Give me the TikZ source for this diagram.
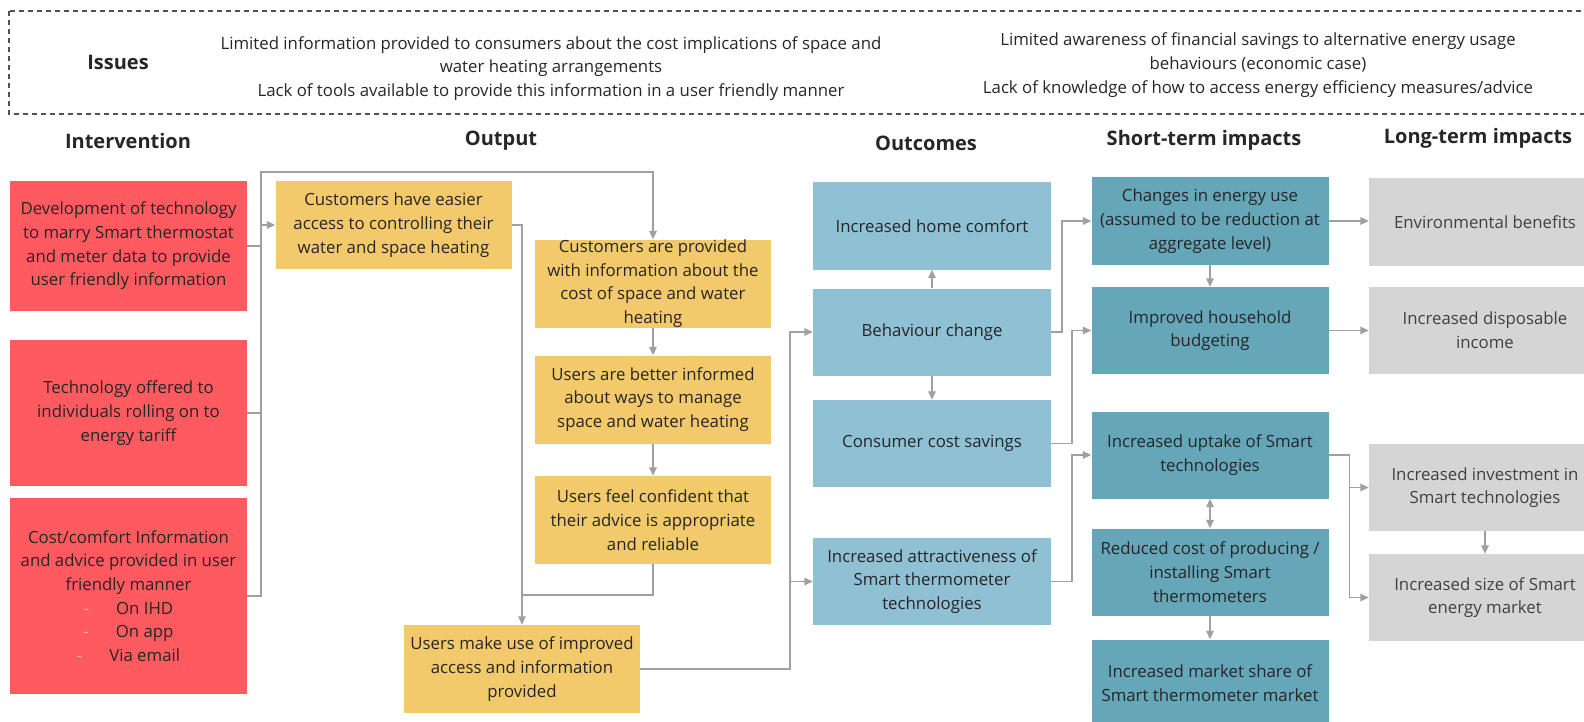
\documentclass[tikz,border=0pt]{standalone}
\usepackage{fontspec}
\setmainfont{Open Sans}
\usepackage{xcolor}
\usepackage{tikz}
\usetikzlibrary{arrows.meta, positioning}

\definecolor{mauDo}{HTML}{FF5A5F}
\definecolor{mauVang}{HTML}{F2CA6C}
\definecolor{mauXanhNhat}{HTML}{8FC0D3}
\definecolor{mauXanhDam}{HTML}{66A6B9}
\definecolor{mauXam}{HTML}{D5D5D5}
\definecolor{mauDuong}{HTML}{A0A0A0}
\definecolor{mauChu}{HTML}{262626}
\definecolor{mauGach}{HTML}{FFB3B5}

\newcommand{\gach}{\textcolor{mauGach}{-}\hspace{27pt}}

\tikzset{
    hop/.style={align=center, inner sep=0pt, text=mauChu,
        font=\fontsize{16.8}{23.7}\selectfont},
    hopDo/.style={hop, fill=mauDo, minimum width=237},
    hopVang/.style={hop, fill=mauVang, minimum width=236, minimum height=88},
    hopXanh/.style={hop, fill=mauXanhNhat, minimum width=238, minimum height=87},
    hopDam/.style={hop, fill=mauXanhDam, minimum width=237, minimum height=87},
    hopXam/.style={hop, fill=mauXam, minimum width=232, minimum height=87, text=black!75},
    tieuDe/.style={text=mauChu, font=\bfseries\fontsize{20}{24}\selectfont},
    duong/.style={draw=mauDuong, line width=1.5pt},
}

\begin{document}
\begin{tikzpicture}[x=1pt, y=-1pt, >={Triangle[length=8.5pt, width=7.5pt]}]
    % Khung trang
    \useasboundingbox (0,0) rectangle (1584,722);
    \clip (0,0) rectangle (1584,722);

    % Khung các vấn đề (nét đứt)
    \draw[mauChu!80, line width=1.2pt, dash pattern=on 5pt off 4pt] (9,11) rectangle (1610,114);
    \node[tieuDe] (issues) at (118,62) {Issues};
    \node[hop, text=mauChu] (issueA) at (551,68.5) {Limited information provided to consumers about the cost implications of space and\\water heating arrangements\\Lack of tools available to provide this information in a user friendly manner};
    \node[hop, text=mauChu] (issueB) at (1258,65) {Limited awareness of financial savings to alternative energy usage\\behaviours (economic case)\\Lack of knowledge of how to access energy efficiency measures/advice};

    % Tiêu đề các cột
    \node[tieuDe] (tdIntervention) at (128,141) {Intervention};
    \node[tieuDe] (tdOutput) at (501,141) {Output};
    \node[tieuDe] (tdOutcomes) at (926,143) {Outcomes};
    \node[tieuDe] (tdShort) at (1204,140) {Short-term impacts};
    \node[tieuDe] (tdLong) at (1478,138) {Long-term impacts};

    % Cột can thiệp
    \node[hopDo, minimum height=130] (dev) at (128.5,246) {Development of technology\\to marry Smart thermostat\\and meter data to provide\\user friendly information};
    \node[hopDo, minimum height=146] (offer) at (128.5,413) {Technology offered to\\individuals rolling on to\\energy tariff};
    \node[hopDo, minimum height=196] (advice) at (128.5,596) {Cost/comfort Information\\and advice provided in user\\friendly manner\\\gach On IHD\\\gach On app\\\gach Via email};

    % Cột đầu ra
    \node[hopVang] (easier) at (393.5,225) {Customers have easier\\access to controlling their\\water and space heating};
    \node[hopVang] (provided) at (653,283.5) {Customers are provided\\with information about the\\cost of space and water\\heating};
    \node[hopVang] (informed) at (653,399.5) {Users are better informed\\about ways to manage\\space and water heating};
    \node[hopVang] (confident) at (653,520) {Users feel confident that\\their advice is appropriate\\and reliable};
    \node[hopVang] (makeuse) at (522,669) {Users make use of improved\\access and information\\provided};

    % Cột kết quả
    \node[hopXanh] (comfort) at (932,226) {Increased home comfort};
    \node[hopXanh] (behaviour) at (932,332) {Behaviour change};
    \node[hopXanh] (savings) at (932,443.5) {Consumer cost savings};
    \node[hopXanh] (attract) at (932,581.5) {Increased attractiveness of\\Smart thermometer\\technologies};

    % Tác động ngắn hạn
    \node[hopDam] (energy) at (1210,221) {Changes in energy use\\(assumed to be reduction at\\aggregate level)};
    \node[hopDam] (budget) at (1210,330.5) {Improved household\\budgeting};
    \node[hopDam] (uptake) at (1210,455) {Increased uptake of Smart\\technologies};
    \node[hopDam] (reduced) at (1210,572) {Reduced cost of producing /\\installing Smart\\thermometers};
    \node[hopDam] (share) at (1210,683) {Increased market share of\\Smart thermometer market};

    % Tác động dài hạn
    \node[hopXam] (env) at (1485,222) {Environmental benefits};
    \node[hopXam] (income) at (1485,330.5) {Increased disposable\\income};
    \node[hopXam] (invest) at (1485,487.5) {Increased investment in\\Smart technologies};
    \node[hopXam] (size) at (1485,597.5) {Increased size of Smart\\energy market};

    % Các đường nối
    \coordinate (busTop) at (261,172);
    \coordinate (gop) at (522,595);
    \coordinate (ra) at (790,332);

    \draw[duong] (dev.east) -| (busTop);
    \draw[duong] (offer.east) -- (offer.east -| busTop);
    \draw[duong, ->] (advice.east) -| (busTop) -| (provided.north);
    \draw[duong, ->] (busTop |- easier.west) -- (easier.west);

    \draw[duong, ->] (easier.east) -| (makeuse.north);
    \draw[duong] (confident.south) |- (gop);
    \draw[duong, ->] (provided.south) -- (informed.north);
    \draw[duong, ->] (informed.south) -- (confident.north);

    \draw[duong, ->] (makeuse.east) -| (ra) -- (behaviour.west);
    \draw[duong, ->] (ra |- attract.west) -- (attract.west);

    \draw[duong, ->] (behaviour.north) -- (comfort.south);
    \draw[duong, ->] (behaviour.south) -- (savings.north);
    \draw[duong, ->] (behaviour.east) -- ++(11,0) |- (energy.west);
    \draw[duong, ->] (savings.east) -- ++(21,0) |- (budget.west);
    \draw[duong, ->] (attract.east) -- ++(21,0) |- (uptake.west);

    \draw[duong, ->] (energy.south) -- (budget.north);
    \draw[duong, <->] (uptake.south) -- (reduced.north);
    \draw[duong, ->] (reduced.south) -- (share.north);
    \draw[duong, ->] (energy.east) -- (energy.east -| env.west);
    \draw[duong, ->] (budget.east) -- (budget.east -| income.west);
    \draw[duong, ->] (uptake.east) -- ++(21,0) |- (size.west);
    \draw[duong, ->] (uptake.east) ++(21,0) |- (invest.west);
    \draw[duong, ->] (invest.south) -- (size.north);
\end{tikzpicture}
\end{document}
